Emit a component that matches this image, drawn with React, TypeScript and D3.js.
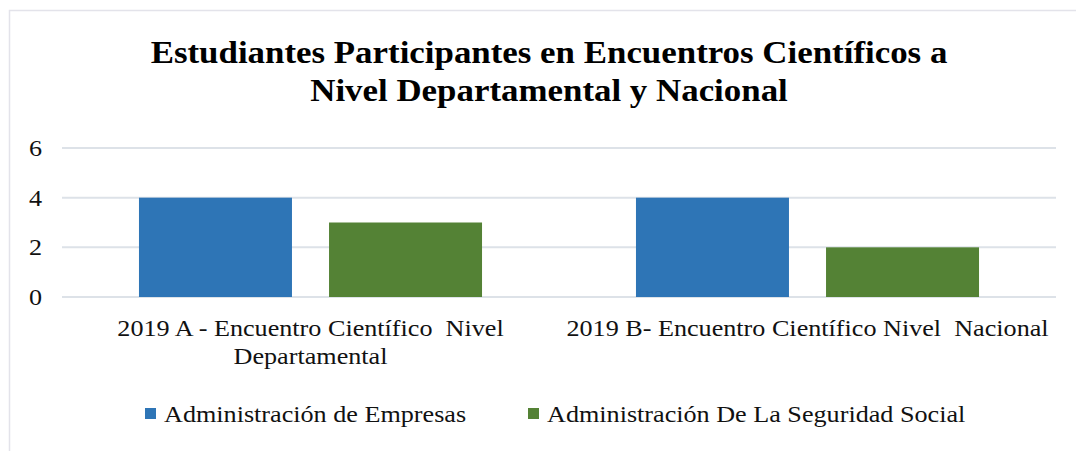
import * as d3 from "d3";

const WIDTH = 1076;
const HEIGHT = 451;
const FONT = "Liberation Serif";
// the source picture is slightly stretched sideways, so text is widened to match
const SX = 1.09;

const titleLines = [
  "Estudiantes Participantes en Encuentros Científicos a",
  "Nivel Departamental y Nacional",
];
const categories = ["cat1", "cat2"];
const categoryLabels = [
  ["2019 A - Encuentro Científico  Nivel", "Departamental"],
  ["2019 B- Encuentro Científico Nivel  Nacional"],
];
const seriesNames = ["Administración de Empresas", "Administración De La Seguridad Social"];
const seriesColors = ["#2E75B6", "#548235"];
const empresas = [4, 4];
const seguridad = [3, 2];
const yTicks = [0, 2, 4, 6];

const plot = { left: 62, right: 1056, top: 148, bottom: 297 };

function at(x: number, y: number) {
  return `translate(${x},${y}) scale(${SX},1)`;
}

export default function App() {
  const x = d3.scaleBand<string>().domain(categories).range([plot.left, plot.right]);
  const inner = d3
    .scaleBand<string>()
    .domain(seriesNames)
    .range([0, x.bandwidth()])
    .paddingInner(0.195)
    .paddingOuter(0.405);
  const y = d3.scaleLinear().domain([0, 6]).range([plot.bottom, plot.top]);
  const values = [empresas, seguridad];

  return (
    <svg
      width={WIDTH}
      height={HEIGHT}
      style={{ position: "absolute", left: 0, top: 0, display: "block", background: "#fff" }}
    >
      <rect x={9.5} y={10.5} width={WIDTH + 10} height={HEIGHT + 10} fill="#fff" stroke="#e3e3ea" strokeWidth={1.5} />
      {titleLines.map((line, i) => (
        <text
          key={i}
          transform={at(549, 63 + i * 38)}
          fontFamily={FONT}
          fontSize={32}
          fontWeight="bold"
          textAnchor="middle"
          fill="#000"
        >
          {line}
        </text>
      ))}
      {yTicks.map((t) => (
        <g key={t}>
          <line x1={plot.left} x2={plot.right} y1={y(t)} y2={y(t)} stroke="#dde2e8" strokeWidth={2} />
          <text transform={at(42, y(t) + 8)} textAnchor="end" fontSize={24} fill="#111" fontFamily={FONT}>
            {t}
          </text>
        </g>
      ))}
      {values.map((series, si) =>
        series.map((v, ci) => (
          <rect
            key={`${si}-${ci}`}
            x={(x(categories[ci]) ?? 0) + (inner(seriesNames[si]) ?? 0)}
            y={y(v)}
            width={inner.bandwidth()}
            height={y(0) - y(v)}
            fill={seriesColors[si]}
          />
        ))
      )}
      {categoryLabels.map((lines, ci) =>
        lines.map((line, li) => (
          <text
            key={`${ci}-${li}`}
            transform={at((x(categories[ci]) ?? 0) + x.bandwidth() / 2, 336 + li * 28)}
            fontSize={24}
            textAnchor="middle"
            fill="#111"
            fontFamily={FONT}
            xmlSpace="preserve"
          >
            {line}
          </text>
        ))
      )}
      {seriesNames.map((name, i) => {
        const lx = [145, 528][i];
        return (
          <g key={name}>
            <rect x={lx} y={408} width={11} height={11} fill={seriesColors[i]} />
            <text transform={at(lx + 19, 422)} fontSize={24} fill="#111" fontFamily={FONT}>
              {name}
            </text>
          </g>
        );
      })}
    </svg>
  );
}
